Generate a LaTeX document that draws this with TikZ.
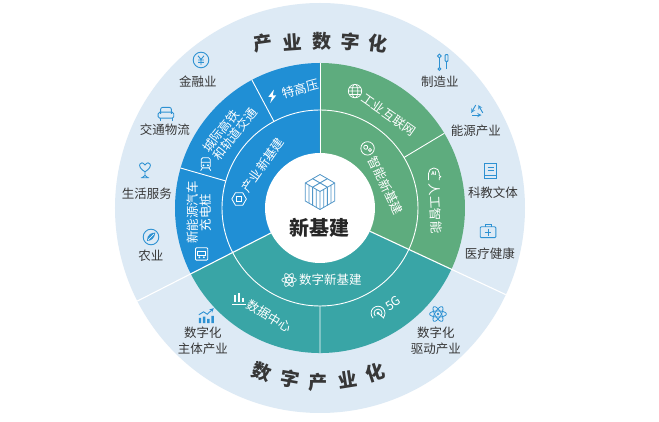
\documentclass[tikz,border=0pt]{standalone}
\usepackage{fontspec}
\setmainfont{Noto Sans CJK SC}
\usetikzlibrary{calc}
\definecolor{ringbg}{RGB}{221,234,245}
\definecolor{cblue}{RGB}{32,143,213}
\definecolor{cgreen}{RGB}{94,172,126}
\definecolor{cteal}{RGB}{57,165,166}
\definecolor{iconblue}{RGB}{45,145,210}
\definecolor{labelgray}{RGB}{55,55,55}
\definecolor{cubeline}{RGB}{80,150,200}
\tikzset{
 lbl/.style={font=\fontsize{12.5}{15.5}\selectfont, text=labelgray, inner sep=0pt, align=center},
 ringtxt/.style={font=\fontsize{12.5}{15}\selectfont, text=white, inner sep=0pt, transform shape},
 titlechar/.style={font=\fontsize{19}{19}\selectfont\bfseries, text=labelgray, inner sep=0pt},
 wline/.style={white, line width=0.9pt},
 oicon/.style={iconblue, line width=0.9pt},
 wicon/.style={white, line width=0.8pt},
 icbolt/.pic={\fill[white] (1.5,6)--(-3.5,-0.5)--(-0.3,-0.5)--(-1.8,-6)--(3.5,0.8)--(0.4,0.8)--cycle;},
 ictrain/.pic={\draw[wicon,rounded corners=1.5pt] (-4,-3.5) rectangle (4,5.5);
   \draw[wicon] (-4,1.5)--(4,1.5) (-3,-3.5)--(-4.5,-6) (3,-3.5)--(4.5,-6);
   \fill[white] (-2,-1.2) circle (0.9) (2,-1.2) circle (0.9);},
 iccharge/.pic={\draw[wicon,rounded corners=1pt] (-5.5,-5.5) rectangle (5.5,5.5);
   \draw[wicon] (-3.5,-1) rectangle (3.5,2.5); \fill[white] (-2,-3) circle (0.9) (2,-3) circle (0.9);},
 ichex/.pic={\draw[wicon] (0:6.5)--(60:6.5)--(120:6.5)--(180:6.5)--(240:6.5)--(300:6.5)--cycle;
   \draw[wicon] (-2.3,-2.3) rectangle (2.3,2.3);},
 icglobe/.pic={\draw[wicon,line width=0.7pt] (0,0) circle (6) (0,0) ellipse (2.6 and 6) (-6,0)--(6,0) (-5.2,3)--(5.2,3) (-5.2,-3)--(5.2,-3);},
 icbrain/.pic={\draw[wicon] (0,0) circle (6); \draw[wicon] (-1.6,1) circle (1.8) (2.2,-1.4) circle (1.4);},
 icai/.pic={\draw[wicon] (-4.5,-6)--(-4.5,0) arc[start angle=180,end angle=0,radius=4.8] -- (5.1,-2) -- (6.4,-3) -- (5.1,-4) -- (5.1,-6);
   \node[text=white,font=\fontsize{4.5}{4.5}\selectfont\bfseries,inner sep=0pt,transform shape] (ait) at (0.3,-0.5) {AI};},
 icatomw/.pic={\foreach \a in {0,60,120} \draw[wicon,line width=0.7pt,rotate=\a] (0,0) ellipse (6.5 and 2.4); \fill[white] (0,0) circle (1);},
 icbars/.pic={\draw[white,line width=1.8pt] (-3.5,-3)--(-3.5,2.5) (0,-3)--(0,5) (3.5,-3)--(3.5,0.5); \draw[wicon] (-6,-5.2)--(6,-5.2);},
 icfive/.pic={\fill[white] (0,0) circle (1.4); \draw[wicon] (-45:3.6) arc[start angle=-45,end angle=225,radius=3.6];
   \draw[wicon] (-45:6.2) arc[start angle=-45,end angle=225,radius=6.2]; \draw[wicon] (0,0)--(-40:7);},
 icyen/.pic={\draw[oicon] (0,0) circle (6.5); \draw[oicon] (-2.5,3.5)--(0,0.5)--(2.5,3.5) (0,0.5)--(0,-4) (-2.3,0)--(2.3,0) (-2.3,-2)--(2.3,-2);},
 icsofa/.pic={\draw[oicon,rounded corners=2pt] (-4.5,0)--(-4.5,5.5)--(4.5,5.5)--(4.5,0);
   \draw[oicon,rounded corners=1.5pt] (-6.5,-3.5) rectangle (6.5,1.5); \draw[oicon] (-5,-3.5)--(-5,-6) (5,-3.5)--(5,-6);},
 icheart/.pic={\draw[oicon] (0,-1.5) .. controls (-8,3) and (-3.5,9) .. (0,4.2) .. controls (3.5,9) and (8,3) .. (0,-1.5);
   \draw[oicon] (0,-1.5)--(0,-4.5) (-3.5,-6.5)--(3.5,-6.5) (-2.5,-6.5)--(0,-4.5)--(2.5,-6.5);},
 icleaf/.pic={\draw[oicon] (0,0) circle (6.5); \fill[iconblue] (-3.2,-3.2) .. controls (-3.5,2.5) and (1,3.8) .. (3.6,3.6) .. controls (3.2,-1) and (0,-3.4) .. (-3.2,-3.2);
   \draw[white,line width=0.6pt] (-2.5,-2.5)--(2.5,2.5);},
 ictools/.pic={\draw[oicon] (-3,-4.5)--(-3,3.5); \draw[oicon] (-3,5) circle (1.6); \draw[oicon] (-3,-5.8) circle (1.2);
   \draw[oicon] (3,-6)--(3,0.5); \draw[oicon,rounded corners=0.8pt] (1.8,0.5) rectangle (4.2,6.2);},
 icrecycle/.pic={\foreach \a in {90,210,330} \draw[oicon,->,>=stealth] ($(\a:6.8)!0.18!({\a+120}:6.8)$) -- ($(\a:6.8)!0.82!({\a+120}:6.8)$);},
 icbook/.pic={\draw[oicon] (-5,-6.5) rectangle (5,6.5); \draw[oicon] (-2,3)--(3,3) (-2,0.5)--(3,0.5) (-5,-3.5)--(5,-3.5);},
 icmed/.pic={\draw[oicon,rounded corners=1pt] (-6.5,-5.5) rectangle (6.5,3.5); \draw[oicon] (-2.5,3.5)--(-2.5,5.8)--(2.5,5.8)--(2.5,3.5);
   \draw[oicon] (-2.8,-1)--(2.8,-1) (0,-3.8)--(0,1.8);},
 icchart/.pic={\fill[iconblue] (-6,-6) rectangle (-4,-1.5) (-2.5,-6) rectangle (-0.5,-0.5) (1,-6) rectangle (3,-2.5) (4.5,-6) rectangle (6.5,0);
   \draw[oicon,->,>=stealth] (-6,1)--(-2,3.5)--(1,1.5)--(6.5,6.5);},
 icatomb/.pic={\foreach \a in {0,60,120} \draw[oicon,line width=0.8pt,rotate=\a] (0,0) ellipse (7 and 2.6); \fill[iconblue] (0,0) circle (1.2);},
 prism/.pic={\filldraw[fill=white,draw=cubeline,line width=0.8pt] (0,0)--(7.36,-4.25)--(7.36,-22.25)--(0,-26.5)--(-7.36,-22.25)--(-7.36,-4.25)--cycle;
   \draw[cubeline,line width=0.8pt] (-7.36,-4.25)--(0,-8.5)--(7.36,-4.25) (0,-8.5)--(0,-26.5) (-3.68,-6.4)--(-3.68,-24.4) (3.68,-6.4)--(3.68,-24.4);},
 oic/.style={scale=1.2},
}
\newcommand{\rlab}[6]{%
 \begin{scope}[shift={#2}, rotate=#3]
  \node[ringtxt] (#1) at (8.5,0) {#5};
  \pic[scale=1.12] at ($(#1.west)!-10pt!(#1.east)$) {#4};
 \end{scope}}
\begin{document}
\begin{tikzpicture}[x=1pt,y=1pt]
\fill[white] (-320,-214) rectangle (339,208);
\useasboundingbox (-320,-214) rectangle (339,208);
% rings
\fill[ringbg] (0,0) circle (205);
\fill[cblue] (0,0) -- (90:145) arc[start angle=90,end angle=207,radius=145] -- cycle;
\fill[cgreen] (0,0) -- (-25:145) arc[start angle=-25,end angle=90,radius=145] -- cycle;
\fill[cteal] (0,0) -- (207:145) arc[start angle=207,end angle=335,radius=145] -- cycle;
\draw[wline] (0,0) circle (98);
\draw[wline,line width=1.1pt] (207:55)--(207:205) (335:55)--(335:205);
\draw[wline,line width=0.5pt] (90:55)--(90:145);
\draw[wline] (118:98)--(118:145) (164:98)--(164:145) (31:98)--(31:145) (270:98)--(270:145);
\fill[white] (0,0) circle (55);
% center
\pic at (0,33.5) {prism};
\pic at (-7.36,29.25) {prism};
\pic at (7.36,29.25) {prism};
\pic at (0,25) {prism};
\node[font=\fontsize{20}{20}\selectfont\bfseries, text=black!85, inner sep=0pt] (core) at (0,-20) {新基建};
% titles
\node[titlechar, rotate=8] (t1) at (-57,165) {产};
\node[titlechar, rotate=4] (t2) at (-28,166) {业};
\node[titlechar] (t3) at (2,167) {数};
\node[titlechar, rotate=-4] (t4) at (30,166) {字};
\node[titlechar, rotate=-8] (t5) at (58,164) {化};
\foreach \a/\c [count=\i] in {250.5/数,260/字,269.5/产,279/业,288.5/化}
  \node[titlechar, rotate={\a-270}] (b\i) at (\a:174) {\c};
% outer labels
\pic[oic] at (-119,148) {icyen};   \node[lbl] (l1) at (-122,126) {金融业};
\pic[oic] at (-154,94) {icsofa};   \node[lbl] (l2) at (-155,78) {交通物流};
\pic[oic] at (-175,38) {icheart};  \node[lbl] (l3) at (-173,14) {生活服务};
\pic[oic] at (-169,-29) {icleaf};  \node[lbl] (l4) at (-169,-48) {农业};
\pic[oic] at (123,146) {ictools};  \node[lbl] (r1) at (120,126) {制造业};
\pic[oic] at (157,97) {icrecycle}; \node[lbl] (r2) at (156,77) {能源产业};
\pic[oic] at (170,37) {icbook};    \node[lbl] (r3) at (173,15) {科教文体};
\pic[oic] at (168,-23) {icmed};    \node[lbl] (r4) at (170,-46) {医疗健康};
\pic[oic] at (-114,-108) {icchart}; \node[lbl] (d1) at (-117,-133) {数字化\\主体产业};
\pic[oic] at (118,-106) {icatomb};  \node[lbl] (d2) at (116,-133) {数字化\\驱动产业};
% ring labels
\rlab{s1}{(-28,117)}{15}{icbolt}{特高压}{}
\rlab{s2}{(-94,70)}{52}{ictrain}{\begin{tabular}{@{}l@{}}城际高铁\\[-2pt]和轨道交通\end{tabular}}{}
\rlab{s3}{(-119,-13)}{91}{iccharge}{\begin{tabular}{@{}c@{}}新能源汽车\\[-2pt]充电桩\end{tabular}}{}
\rlab{s4}{(-62,36)}{55}{ichex}{产业新基建}{}
\rlab{s5}{(62,98)}{-35}{icglobe}{工业互联网}{}
\rlab{s6}{(62,30)}{-64}{icbrain}{智能新基建}{}
\rlab{s7}{(115,8)}{-87}{icai}{人工智能}{}
\rlab{s8}{(2,-72)}{0}{icatomw}{数字新基建}{}
\rlab{s9}{(-58,-104)}{-31}{icbars}{数据中心}{}
\rlab{s10}{(66,-100)}{33}{icfive}{5G}{}
\end{tikzpicture}
\end{document}
